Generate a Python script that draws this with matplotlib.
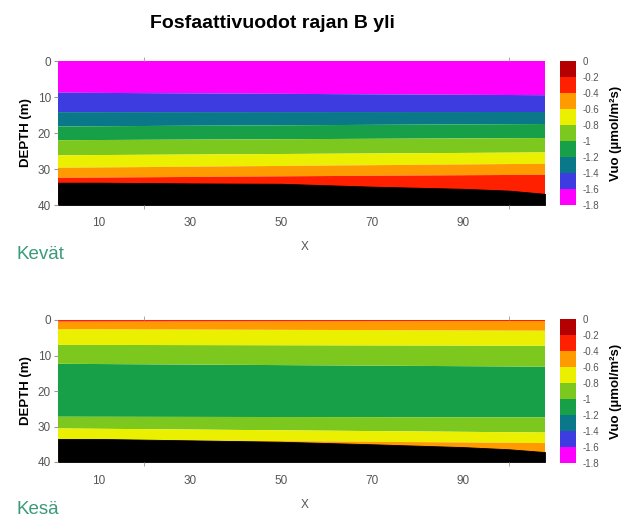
import numpy as np
import matplotlib
matplotlib.use("Agg")
import matplotlib.pyplot as plt
from matplotlib.colors import ListedColormap, BoundaryNorm

plt.rcParams['font.family'] = ['Liberation Sans Narrow', 'Liberation Sans', 'DejaVu Sans']

# Flux levels (µmol/m²s) and their colours, lowest first
levels = [-1.8, -1.6, -1.4, -1.2, -1.0, -0.8, -0.6, -0.4, -0.2, 0.0]
level_labels = ["-1.8", "-1.6", "-1.4", "-1.2", "-1", "-0.8", "-0.6", "-0.4", "-0.2", "0"]
band_colors = ["#ff00ff", "#3c3ce0", "#0a7888", "#18a048", "#7cc81e",
               "#eaf000", "#ff9a00", "#ff2000", "#b40000"]

# Section columns (X) and depth levels (m)
x_cols = [1, 108]
depth = [0, 1, 2, 3, 4, 6, 8, 10, 12, 14, 16, 18, 20, 22, 24, 26, 28, 30, 32, 34, 36, 38, 40]

# Spring (Kevät) flux profiles at the western and eastern end
spring_west = [-1.70, -1.70, -1.70, -1.70, -1.70, -1.69, -1.64, -1.54, -1.48, -1.41, -1.31, -1.21,
               -1.10, -1.00, -0.90, -0.81, -0.70, -0.58, -0.43, -0.30, -0.25, -0.25, -0.25]
spring_east = [-1.70, -1.70, -1.70, -1.70, -1.70, -1.69, -1.66, -1.58, -1.49, -1.41, -1.29, -1.17,
               -1.07, -0.97, -0.87, -0.77, -0.63, -0.52, -0.37, -0.30, -0.28, -0.25, -0.25]

# Summer (Kesä) flux profiles at the western and eastern end
summer_west = [-0.36, -0.45, -0.56, -0.63, -0.67, -0.76, -0.84, -0.92, -0.99, -1.05, -1.08, -1.10,
               -1.10, -1.10, -1.08, -1.05, -0.97, -0.83, -0.72, -0.58, -0.50, -0.45, -0.45]
summer_east = [-0.37, -0.47, -0.55, -0.60, -0.65, -0.75, -0.83, -0.90, -0.96, -1.03, -1.07, -1.09,
               -1.10, -1.10, -1.08, -1.05, -0.98, -0.91, -0.78, -0.64, -0.52, -0.45, -0.45]

# Sea floor depth along the section
floor_x = [1, 10, 30, 50, 70, 90, 100, 108]
spring_floor = [33.8, 33.8, 34.0, 34.1, 34.9, 35.5, 36.0, 36.9]
summer_floor = [33.5, 33.5, 33.9, 34.3, 35.0, 35.8, 36.4, 37.2]

x_ticks = [10, 30, 50, 70, 90]
y_ticks = [0, 10, 20, 30, 40]

W, H = 633, 519
fig = plt.figure(figsize=(W / 100, H / 100), dpi=100)

tick_grey = "#555555"
plain = ["Liberation Sans", "DejaVu Sans"]


def px_axes(left, top, right, bottom):
    return fig.add_axes([left / W, 1 - bottom / H, (right - left) / W, (bottom - top) / H])


def panel(ax_box, cb_box, west, east, floor, season, xlab_y, season_base):
    cmap = ListedColormap(band_colors)
    norm = BoundaryNorm(levels, cmap.N)
    ax = px_axes(*ax_box)
    z = np.column_stack([west, east])
    cs = ax.contourf(x_cols, depth, z, levels=levels, cmap=cmap, norm=norm, antialiased=True)
    ax.fill_between(floor_x, floor, 40, color="black", lw=0.6, edgecolor="black")
    ax.set_xlim(1, 108)
    ax.set_ylim(40, 0)
    for s in ax.spines.values():
        s.set_visible(False)
    ax.set_xticks(x_ticks)
    ax.set_xticklabels([str(v) for v in x_ticks])
    ax.tick_params(axis="x", length=0, pad=9, labelsize=8.5, labelcolor=tick_grey)
    ax.set_xticks([20, 50, 70, 100], minor=True)
    ax.tick_params(axis="x", which="minor", length=3, color="#999999", top=True)
    ax.set_yticks(y_ticks)
    ax.tick_params(axis="y", length=3, color="#999999", labelsize=8.5, labelcolor=tick_grey, pad=2)
    ax.set_ylabel("DEPTH (m)", fontsize=9.5, fontweight="bold", family=plain, labelpad=4)

    cax = px_axes(*cb_box)
    cb = fig.colorbar(cs, cax=cax)
    cb.set_ticks(levels, labels=level_labels)
    cb.outline.set_visible(False)
    cb.ax.tick_params(length=0, labelsize=7, labelcolor=tick_grey, pad=5)

    fig.text(305 / W, 1 - xlab_y / H, "X", fontsize=8.5, color=tick_grey, ha="center", va="center")
    fig.text(16 / W, 1 - season_base / H, season, fontsize=13.5, color="#3a9a7c",
             ha="left", va="baseline", family=plain)
    fig.text(616 / W, 1 - (cb_box[1] + cb_box[3]) / 2 / H, "Vuo (µmol/m²s)", rotation=90,
             fontsize=9.5, fontweight="bold", ha="center", va="center", family=plain)


panel((58, 61, 545, 205), (560, 61, 576, 205), spring_west, spring_east, spring_floor,
      "Kevät", 247, 259)
panel((58, 320, 545, 462), (560, 319, 576, 463), summer_west, summer_east, summer_floor,
      "Kesä", 505, 514)

fig.text(272 / W, 1 - 28 / H, "Fosfaattivuodot rajan B yli", fontsize=14, fontweight="bold",
         ha="center", va="baseline", family=plain)

fig.savefig("out.png", dpi=100)
